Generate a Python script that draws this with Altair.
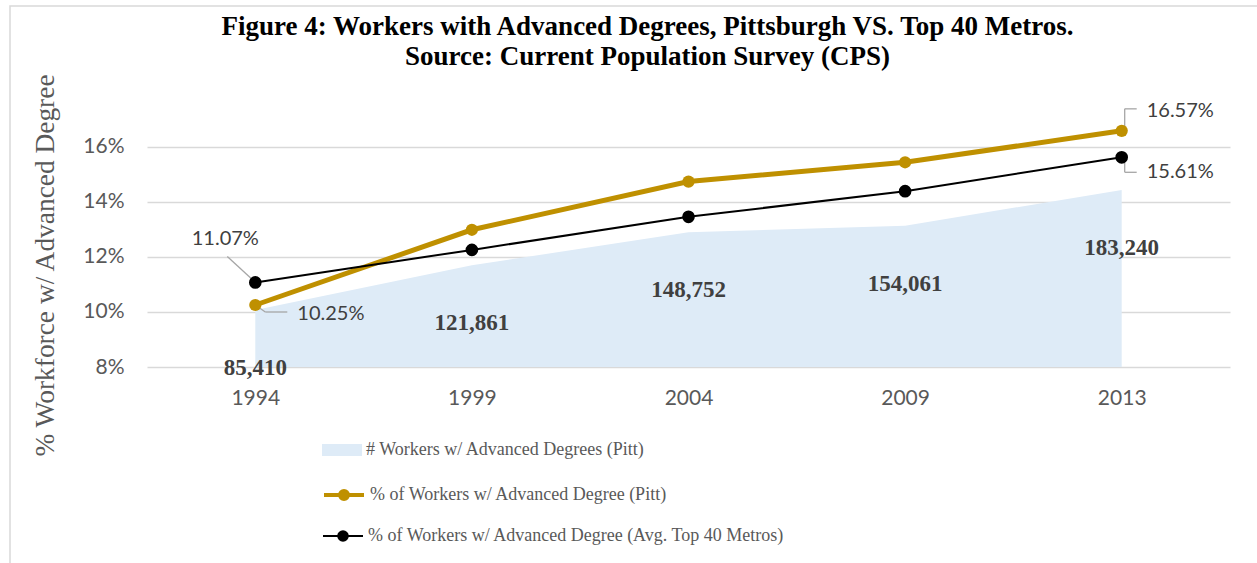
import altair as alt
import pandas as pd

years = ["1994", "1999", "2004", "2009", "2013"]
workers = [85410, 121861, 148752, 154061, 183240]
pitt_pct = [10.25, 12.98, 14.73, 15.43, 16.57]
avg_pct = [11.07, 12.25, 13.45, 14.38, 15.61]

S_AREA = "# Workers w/ Advanced Degrees (Pitt)"
S_PITT = "% of Workers w/ Advanced Degree (Pitt)"
S_AVG = "% of Workers w/ Advanced Degree (Avg. Top 40 Metros)"

TITLE = ["Figure 4: Workers with Advanced Degrees, Pittsburgh VS. Top 40 Metros.",
         "Source: Current Population Survey (CPS)"]
Y_TITLE = "% Workforce w/ Advanced Degree"

df = pd.DataFrame({
    "year": years,
    "workers": workers,
    "pitt": pitt_pct,
    "avg": avg_pct,
})
df["workers_label"] = [f"{v:,}" for v in workers]
df["pitt_label"] = [f"{v:.2f}%" for v in pitt_pct]
df["avg_label"] = [f"{v:.2f}%" for v in avg_pct]
df["s_area"] = S_AREA
df["s_pitt"] = S_PITT
df["s_avg"] = S_AVG

GOLD = "#BF9000"
AREA = "#DEEBF7"
GRID = "#D9D9D9"
LBL = "#404040"
AX = "#595959"
LEAD = "#A6A6A6"
SANS = "Lato"
SERIF = "Liberation Serif"

W, H = 1083, 248

xenc = alt.X("year:O", scale=alt.Scale(type="point", padding=0.5),
             axis=alt.Axis(title=None, ticks=False, domain=False, grid=False,
                           labelFont=SANS, labelFontSize=21, labelColor=AX,
                           labelPadding=20, labelAngle=0))

pct_scale = alt.Scale(domain=[8, 17], nice=False, zero=False)
pct_axis = alt.Axis(values=[8, 10, 12, 14, 16], labelExpr="datum.value + '%'",
                    orient="left", ticks=False, domain=False, grid=True,
                    gridColor=GRID, gridWidth=1.5,
                    labelFont=SANS, labelFontSize=21, labelColor=AX, labelPadding=23,
                    title=Y_TITLE, titleFont=SERIF, titleFontSize=27.4,
                    titleFontWeight="normal", titleColor=AX,
                    titleX=-102, titleY=146, titleBaseline="middle", titleAngle=-90)

work_scale = alt.Scale(domain=[39000, 241000], nice=False, zero=False)

base = alt.Chart(df)

def line_legend(x, y, fill, sw, r):
    path = f"M-1,0L1,0M-{r},0A{r},{r},0,1,1,{r},0A{r},{r},0,1,1,-{r},0Z"
    return alt.Legend(orient="none", legendX=x, legendY=y, title=None,
                      symbolType=path, symbolSize=1600, symbolStrokeWidth=sw,
                      symbolFillColor=fill, symbolStrokeColor=fill,
                      labelFont=SERIF, labelFontSize=18, labelColor=AX,
                      labelOffset=4, padding=0, labelLimit=600)

area = base.mark_area(opacity=1, clip=True).encode(
    x=xenc,
    y=alt.Y("workers:Q", scale=work_scale, axis=None, stack=None),
    y2=alt.value(H),
    color=alt.Color("s_area:N", scale=alt.Scale(domain=[S_AREA], range=[AREA]),
                    legend=alt.Legend(orient="none", legendX=175, legendY=311, title=None,
                                      symbolType="M-1,-0.3L1,-0.3L1,0.3L-1,0.3Z",
                                      symbolSize=1600, symbolStrokeWidth=0,
                                      labelFont=SERIF, labelFontSize=18, labelColor=AX,
                                      labelOffset=4, padding=0, labelLimit=600)),
)
area_text = base.mark_text(font=SERIF, fontWeight="bold", fontSize=23, color=LBL,
                           dy=58, baseline="middle").encode(
    x=xenc,
    y=alt.Y("workers:Q", scale=work_scale, axis=None),
    text="workers_label:N",
)
area_group = alt.layer(area, area_text)

pitt_line = base.mark_line(strokeWidth=5).encode(
    x=xenc,
    y=alt.Y("pitt:Q", scale=pct_scale, axis=pct_axis),
    color=alt.Color("s_pitt:N", scale=alt.Scale(domain=[S_PITT], range=[GOLD]),
                    legend=line_legend(175, 354, GOLD, 4, 0.2)),
)
pitt_pts = base.mark_circle(size=150, opacity=1, color=GOLD).encode(
    x=xenc, y=alt.Y("pitt:Q", scale=pct_scale, axis=pct_axis))
avg_line = base.mark_line(strokeWidth=2).encode(
    x=xenc,
    y=alt.Y("avg:Q", scale=pct_scale, axis=pct_axis),
    color=alt.Color("s_avg:N", scale=alt.Scale(domain=[S_AVG], range=["black"]),
                    legend=line_legend(175, 396, "black", 2, 0.24)),
)
avg_pts = base.mark_circle(size=160, opacity=1, color="black").encode(
    x=xenc, y=alt.Y("avg:Q", scale=pct_scale, axis=pct_axis))

def yr(v):
    return alt.datum.year == v

def lead(field, year, x1, y1, x2, y2):
    return base.transform_filter(yr(year)).mark_rule(
        color=LEAD, strokeWidth=1.3, xOffset=x1, yOffset=y1, x2Offset=x2, y2Offset=y2
    ).encode(x=xenc, y=alt.Y(f"{field}:Q", scale=pct_scale, axis=pct_axis),
             x2=alt.X2("year:O"), y2=alt.Y2(f"{field}:Q"))

leads = [
    lead("avg", "1994", -28, -26, -3, -3),
    lead("pitt", "1994", 0, 0, 10, 7),
    lead("pitt", "1994", 10, 7, 32, 7),
    lead("pitt", "2013", 3, -3, 3, -22),
    lead("pitt", "2013", 3, -22, 15, -22),
    lead("avg", "2013", 3, 3, 3, 15),
    lead("avg", "2013", 3, 15, 15, 15),
]

def plabel(field, year, dx, dy, align):
    return base.transform_filter(yr(year)).mark_text(
        font=SANS, fontSize=20, color=LBL, dx=dx, dy=dy, align=align, baseline="middle"
    ).encode(x=xenc, y=alt.Y(f"{field}:Q", scale=pct_scale, axis=pct_axis),
             text=f"{field}_label:N")

labels = [
    plabel("avg", "1994", -30, -43, "center"),
    plabel("pitt", "1994", 42, 9, "left"),
    plabel("pitt", "2013", 25, -20, "left"),
    plabel("avg", "2013", 25, 15, "left"),
]

pct_group = alt.layer(*leads, pitt_line, pitt_pts, avg_line, avg_pts, *labels).resolve_scale(
    color="independent")

border = alt.Chart(pd.DataFrame({"a": [0]})).mark_rect(
    filled=False, stroke=GRID, strokeWidth=1.5).encode(
    x=alt.value(-137), x2=alt.value(1300), y=alt.value(-113), y2=alt.value(600))

chart = alt.layer(border, area_group, pct_group).resolve_scale(
    y="independent", color="independent"
).properties(
    width=W, height=H, background="white",
    title=alt.TitleParams(text=TITLE, font=SERIF, fontSize=27, fontWeight="bold",
                          color="black", anchor="middle", dx=-41, dy=70, lineHeight=30),
    autosize=alt.AutoSizeParams(type="none"),
    padding={"left": 147, "top": 119, "right": 27, "bottom": 196},
).configure_view(stroke=None)

chart.save("out.html", embed_options={"renderer": "svg", "actions": False})
